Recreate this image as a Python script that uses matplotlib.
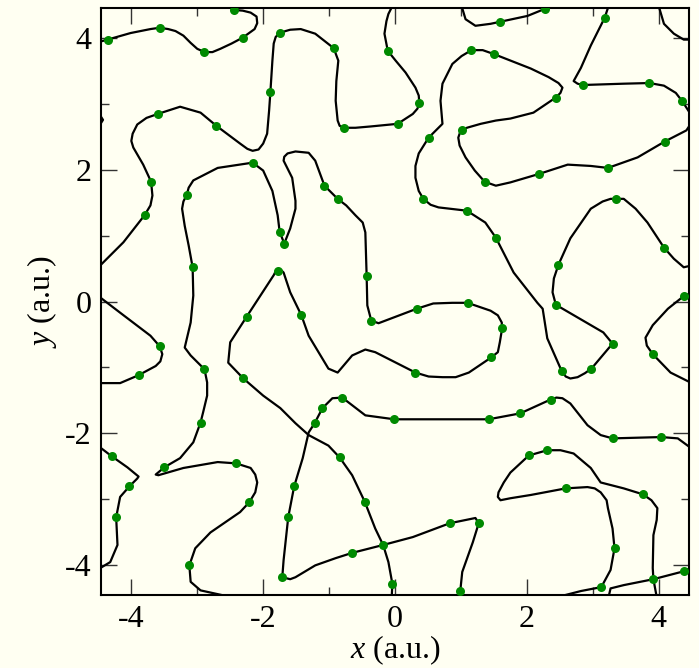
import matplotlib
matplotlib.use("Agg")
import matplotlib.pyplot as plt
from matplotlib.ticker import MultipleLocator

# Traced curve pieces (a.u.), each piece ends at the periodic box edge
a_x = [-4.47, -4.36, -4.01, -3.86, -3.71, -3.57, -3.44, -3.33, -3.21, -3.10, -3.00, -2.89, -2.77, -2.65,
       -2.48, -2.31, -2.13, -2.09, -2.10, -2.19, -2.31, -2.44, -2.56]
a_y = [3.95, 3.98, 4.08, 4.11, 4.14, 4.16, 4.14, 4.11, 4.04, 3.93, 3.84, 3.79, 3.79, 3.84,
       3.92, 4.01, 4.14, 4.23, 4.33, 4.39, 4.42, 4.43, 4.50]

b_x = [-4.47, -4.12, -3.80, -3.71, -3.68, -3.70, -3.82, -3.97, -4.00, -3.98, -3.91, -3.77, -3.60, -3.26,
       -2.95, -2.71, -2.35, -2.24, -2.16, -2.07, -2.00, -1.94, -1.91, -1.89, -1.86, -1.84, -1.81, -1.75,
       -1.66, -1.59, -1.43, -1.21, -0.93, -0.86, -0.89, -0.90, -0.87, -0.84, -0.78, -0.60, -0.37, 0.04,
       0.27, 0.34, 0.37, 0.36, 0.31, 0.16, 0.01, -0.11, -0.16, -0.13, -0.10, -0.04]
b_y = [0.55, 0.90, 1.31, 1.46, 1.61, 1.82, 2.08, 2.34, 2.44, 2.55, 2.69, 2.79, 2.85, 2.96,
       2.87, 2.67, 2.40, 2.32, 2.29, 2.31, 2.40, 2.55, 2.90, 3.19, 3.66, 3.92, 4.02, 4.08,
       4.11, 4.13, 4.14, 4.07, 3.85, 3.66, 3.35, 3.05, 2.75, 2.67, 2.64, 2.64, 2.66, 2.70,
       2.85, 2.93, 3.01, 3.13, 3.25, 3.48, 3.66, 3.81, 4.07, 4.26, 4.37, 4.49]

c_x = [-0.05, -0.04, -0.10, -0.18, -0.30, -0.46, -0.65, -0.84, -1.01, -1.31, -1.51, -1.74, -2.00, -2.30,
       -2.53, -2.50, -2.25, -1.84, -1.81, -1.77, -1.72, -1.69, -1.59, -1.42, -1.31, -1.01, -0.87, -0.65,
       -0.45, -0.30, 0.31, 0.51, 0.72, 0.92, 1.12, 1.46, 1.56, 1.59, 1.62, 1.62, 1.56, 1.45, 1.10, 0.87,
       0.58, 0.33, -0.25, -0.36, -0.42, -0.43, -0.45, -0.49, -0.60, -0.74, -0.87, -1.07, -1.21, -1.31,
       -1.51, -1.63, -1.68, -1.69, -1.56, -1.51, -1.51, -1.59, -1.68, -1.75, -1.78, -1.86, -2.00, -2.16,
       -2.69, -3.06, -3.13, -3.16, -3.21, -3.23, -3.19, -3.13, -3.07, -3.06, -3.10, -3.19, -3.10, -2.89,
       -2.85, -2.85, -2.91, -2.95, -3.06, -3.26, -3.50, -3.63, -3.59, -3.21, -2.69, -2.41, -2.19, -2.12,
       -2.09, -2.12, -2.21, -2.35, -2.80, -3.03, -3.12, -3.10, -2.95, -2.54]
c_y = [-4.49, -4.29, -3.96, -3.70, -3.45, -3.04, -2.64, -2.37, -2.19, -2.03, -1.85, -1.62, -1.43, -1.17,
       -0.93, -0.62, -0.23, 0.40, 0.46, 0.47, 0.47, 0.44, 0.14, -0.21, -0.52, -1.02, -1.08, -0.82,
       -0.73, -0.77, -1.08, -1.14, -1.15, -1.15, -1.08, -0.85, -0.77, -0.62, -0.44, -0.32, -0.21, -0.14, -0.02, -0.02,
       -0.03, -0.11, -0.33, -0.29, -0.06, 0.38, 1.05, 1.20, 1.31, 1.46, 1.56, 1.76, 2.14, 2.26,
       2.28, 2.25, 2.20, 2.14, 1.88, 1.53, 1.41, 1.11, 0.88, 1.06, 1.31, 1.68, 1.99, 2.11,
       2.03, 1.84, 1.73, 1.62, 1.52, 1.41, 1.15, 0.85, 0.52, 0.09, -0.32, -0.70, -0.82, -1.03,
       -1.23, -1.43, -1.68, -1.84, -2.14, -2.38, -2.52, -2.63, -2.64, -2.53, -2.44, -2.46, -2.53, -2.63,
       -2.75, -2.90, -3.05, -3.20, -3.51, -3.75, -4.01, -4.26, -4.39, -4.48]

d1_x = [4.48, 4.39, 4.14, 3.91, 3.80, 3.82, 3.91, 4.18, 4.48]
d1_y = [0.12, 0.09, -0.11, -0.36, -0.55, -0.67, -0.80, -1.08, -1.23]
d2_x = [-4.47, -4.17, -3.71, -3.57, -3.53, -3.56, -3.63, -3.89, -4.17, -4.47]
d2_y = [0.06, -0.17, -0.52, -0.68, -0.80, -0.91, -0.98, -1.12, -1.24, -1.24]

e_x = [0.99, 0.99, 1.02, 1.18, 1.27, 1.22, 0.83, 0.27, -0.18, -0.65, -0.90, -1.21, -1.51, -1.59, -1.71,
       -1.69, -1.62, -1.53, -1.40, -1.31, -1.22, -1.10, -0.95, -0.80, -0.71, -0.45, -0.01, 1.42, 1.90,
       2.36, 2.45, 2.54, 2.66, 2.92, 3.12, 3.30, 4.04, 4.29, 4.48]
e_y = [-4.49, -4.40, -4.11, -3.66, -3.37, -3.29, -3.37, -3.58, -3.70, -3.82, -3.90, -4.01, -4.19, -4.22, -4.19,
       -3.93, -3.28, -2.81, -2.38, -1.99, -1.85, -1.62, -1.47, -1.46, -1.53, -1.73, -1.79, -1.79, -1.70,
       -1.49, -1.46, -1.47, -1.55, -1.88, -2.03, -2.08, -2.06, -2.08, -2.22]
e2_x = [-4.47, -4.30, -4.06, -3.89, -3.91, -4.03, -4.17, -4.23, -4.21, -4.32, -4.47]
e2_y = [-2.22, -2.35, -2.52, -2.66, -2.69, -2.81, -2.97, -3.28, -3.70, -3.96, -4.05]
e3_x = [4.48, 4.38, 3.92, 3.47, 3.27, 3.24]
e3_y = [-4.05, -4.10, -4.22, -4.31, -4.36, -4.49]

f_x = [3.24, 3.18, 2.97, 2.82, 2.71, 2.77, 2.85, 3.47, 3.86, 4.08, 4.26, 4.36, 4.47, 4.50, 4.42, 4.09,
       3.68, 3.23, 2.97, 2.62, 2.19, 1.75, 1.53, 1.36, 1.21, 1.07, 0.98, 0.96, 0.99, 1.09, 1.30, 1.53,
       1.75, 2.10, 2.44, 2.51, 2.54, 2.48, 2.33, 2.06, 1.50, 1.33, 1.16, 1.01, 0.87, 0.72, 0.69, 0.72,
       0.51, 0.36, 0.31, 0.31, 0.36, 0.43, 0.54, 0.66, 1.09, 1.37, 1.53, 1.80, 2.16, 2.24, 2.31, 2.53,
       2.59, 2.66, 2.77, 2.88, 2.98, 3.30, 3.16, 2.44, 2.39, 2.41, 2.48, 2.66, 2.97, 3.15, 3.27, 3.36,
       3.47, 3.65, 3.83, 4.08, 4.23, 4.38, 4.51]
f_y = [4.49, 4.31, 3.89, 3.55, 3.35, 3.31, 3.29, 3.31, 3.32, 3.28, 3.17, 3.04, 2.87, 2.72, 2.60, 2.43,
       2.19, 2.03, 2.06, 2.08, 1.94, 1.81, 1.76, 1.82, 1.99, 2.19, 2.37, 2.49, 2.58, 2.64, 2.70, 2.75,
       2.78, 2.87, 3.10, 3.17, 3.25, 3.32, 3.41, 3.54, 3.76, 3.82, 3.82, 3.73, 3.61, 3.31, 3.05, 2.70,
       2.49, 2.25, 2.06, 1.88, 1.68, 1.56, 1.47, 1.43, 1.38, 1.20, 0.97, 0.44, -0.02, -0.11, -0.56, -1.06,
       -1.14, -1.17, -1.15, -1.09, -1.02, -0.64, -0.47, -0.05, 0.14, 0.35, 0.56, 0.96, 1.41, 1.52, 1.56, 1.56,
       1.56, 1.41, 1.20, 0.82, 0.65, 0.52, 0.55]
stub_x = [-4.48, -4.43, -4.48]
stub_y = [2.84, 2.76, 2.68]

g_x = [2.47, 2.82, 3.13, 3.27, 3.33, 3.30, 3.23, 3.21, 3.12, 3.03, 2.92, 2.59, 2.06, 1.75, 1.60, 1.56,
       1.57, 1.65, 1.75, 2.03, 2.31, 2.51, 2.71, 2.97, 3.12, 3.47, 3.76, 3.89, 3.98, 3.97, 3.92, 3.91,
       3.92, 3.97]
g_y = [-4.49, -4.40, -4.34, -4.08, -3.75, -3.45, -3.14, -3.02, -2.90, -2.84, -2.82, -2.84, -2.94, -2.99, -3.02, -2.97,
       -2.90, -2.75, -2.60, -2.34, -2.26, -2.26, -2.31, -2.53, -2.75, -2.84, -2.93, -3.02, -3.14, -3.32, -3.55, -4.05,
       -4.22, -4.49]
g2_x = [4.00, 4.08, 4.23, 4.38, 4.51]
g2_y = [4.49, 4.22, 4.07, 3.98, 3.98]

h_x = [1.01, 1.07, 1.22, 1.45, 1.59, 2.01, 2.28, 2.36]
h_y = [4.49, 4.29, 4.19, 4.22, 4.25, 4.34, 4.45, 4.49]

curves = [(a_x, a_y), (b_x, b_y), (c_x, c_y), (d1_x, d1_y), (d2_x, d2_y), (e_x, e_y), (e2_x, e2_y),
          (e3_x, e3_y), (f_x, f_y), (stub_x, stub_y), (g_x, g_y), (g2_x, g2_y), (h_x, h_y)]

# Bead positions (green dots)
dot_x = [-4.36, -3.57, -2.89, -2.31, -2.44,
         -3.80, -3.70, -3.60, -2.71, -1.89, -1.75, -0.93, -0.78, 0.04, 0.37, -0.11,
         -0.04, -0.18, -0.46, -0.84, -2.30, -2.25, -1.77, -1.42, 0.31, 1.46, 1.62, 1.10, 0.33, -0.36,
         -0.43, -0.87, -1.07, -1.68, -1.75, -2.16, -3.16, -3.07, -2.89, -2.95, -3.50, -2.41, -2.21, -3.12,
         4.39, 3.91, -3.57, -3.89,
         0.99, 1.27, 0.83, -0.65, -1.71, -1.62, -1.53, -1.22, -1.10, -0.80, -0.01, 1.42, 1.90, 2.36, 3.30, 4.04,
         -4.30, -4.03, -4.23,
         4.38, 3.92,
         3.18, 2.85, 3.86, 4.36, 4.09, 3.23, 2.19, 1.36, 1.02, 2.44, 1.50, 1.16, 0.51, 0.43, 1.09, 1.53,
         2.53, 2.98, 3.30, 2.44, 2.48, 3.36, 4.08,
         3.13, 3.33, 2.59, 2.03, 2.31, 3.76,
         1.59, 2.28]
dot_y = [3.98, 4.16, 3.79, 4.01, 4.43,
         1.31, 1.82, 2.85, 2.67, 3.19, 4.08, 3.85, 2.64, 2.70, 3.01, 3.81,
         -4.29, -3.70, -3.04, -2.37, -1.17, -0.23, 0.47, -0.21, -1.08, -0.85, -0.40, -0.02, -0.11, -0.29,
         0.38, 1.56, 1.76, 0.88, 1.06, 2.11, 1.62, 0.52, -1.03, -1.84, -2.52, -2.46, -3.05, -4.01,
         0.09, -0.80, -0.68, -1.12,
         -4.40, -3.37, -3.37, -3.82, -4.19, -3.28, -2.81, -1.85, -1.62, -1.46, -1.79, -1.79, -1.70, -1.49, -2.08, -2.06,
         -2.35, -2.81, -3.28,
         -4.10, -4.22,
         4.31, 3.29, 3.32, 3.04, 2.43, 2.03, 1.94, 1.82, 2.61, 3.10, 3.76, 3.82, 2.49, 1.56, 1.38, 0.97,
         -1.06, -1.02, -0.64, -0.05, 0.56, 1.56, 0.82,
         -4.34, -3.75, -2.84, -2.34, -2.26, -2.93,
         4.25, 4.45]

bg = "#fffff2"
plt.rcParams["font.family"] = "Liberation Serif"
plt.rcParams["mathtext.fontset"] = "custom"
plt.rcParams["mathtext.rm"] = "Liberation Serif"
plt.rcParams["mathtext.it"] = "Liberation Serif:italic"
plt.rcParams["axes.unicode_minus"] = False

fig = plt.figure(figsize=(6.99, 6.68), dpi=100, facecolor=bg)
ax = fig.add_axes([0.1445, 0.1093, 0.8412, 0.8787], facecolor=bg)

for cx, cy in curves:
    ax.plot(cx, cy, color="black", lw=1.6, solid_joinstyle="round", solid_capstyle="round", zorder=2)
ax.plot(dot_x, dot_y, "o", color="#008a00", markersize=6.5, markeredgewidth=0, zorder=3)

lim = 4.46
ax.set_xlim(-lim, lim)
ax.set_ylim(-lim, lim)
ax.xaxis.set_major_locator(MultipleLocator(2))
ax.yaxis.set_major_locator(MultipleLocator(2))
ax.xaxis.set_minor_locator(MultipleLocator(1))
ax.yaxis.set_minor_locator(MultipleLocator(1))
ax.tick_params(which="both", direction="in", top=True, right=True, labelsize=23, width=1.0, color="#333333")
ax.tick_params(which="major", length=11.5, pad=7)
ax.tick_params(which="minor", length=5.8)
for s in ax.spines.values():
    s.set_linewidth(1.5)

ax.set_xlabel("$x$ (a.u.)", fontsize=23, labelpad=0)
ax.set_ylabel("$y$ (a.u.)", fontsize=23, labelpad=4)

fig.savefig("out.png", dpi=100, facecolor=bg)
